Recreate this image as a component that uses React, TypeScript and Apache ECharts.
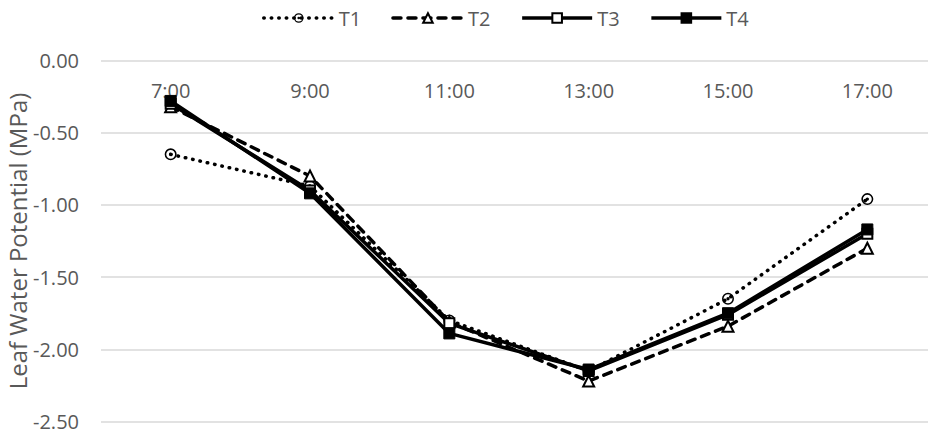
import React, { useEffect, useRef } from "react";
import * as echarts from "echarts";

const categories = ["7:00", "9:00", "11:00", "13:00", "15:00", "17:00"];
const t1 = [-0.65, -0.87, -1.8, -2.15, -1.65, -0.96];
const t2 = [-0.32, -0.8, -1.81, -2.22, -1.84, -1.3];
const t3 = [-0.3, -0.9, -1.82, -2.15, -1.76, -1.2];
const t4 = [-0.28, -0.92, -1.89, -2.14, -1.75, -1.17];
const yTicks = { min: -2.5, max: 0, interval: 0.5 };

const dotCircle =
  "path://M10 0A10 10 0 1 1 10 20A10 10 0 1 1 10 0Z M10 2.6A7.4 7.4 0 1 0 10 17.4A7.4 7.4 0 1 0 10 2.6Z M10 7.2A2.8 2.8 0 1 1 10 12.8A2.8 2.8 0 1 1 10 7.2Z";

export default function App() {
  const ref = useRef<HTMLDivElement>(null);
  useEffect(() => {
    if (!ref.current) return;
    const chart = echarts.init(ref.current, null, { renderer: "svg" });
    const font = "'Open Sans', sans-serif";
    const lineW = 3.5;
    const styles: any = {
      T1: { symbol: dotCircle, size: 12, type: [0.5, 7], cap: "round", bw: 0 },
      T2: { symbol: "emptyTriangle", size: 11, type: [8, 7], cap: "round", bw: 1.5 },
      T3: { symbol: "emptyRect", size: 10, type: "solid", cap: "butt", bw: 1.5 },
      T4: { symbol: "rect", size: 11, type: "solid", cap: "butt", bw: 1 },
    };
    const mk = (name: string, data: number[]) => ({
      name,
      type: "line",
      data,
      symbol: styles[name].symbol,
      symbolSize: styles[name].size,
      showSymbol: true,
      itemStyle: { color: "#000", borderColor: "#000", borderWidth: styles[name].bw },
      lineStyle: { color: "#000", width: lineW, type: styles[name].type, cap: styles[name].cap },
    });
    const names = ["T1", "T2", "T3", "T4"];
    chart.setOption({
      animation: false,
      textStyle: { fontFamily: font },
      legend: {
        left: 257,
        top: 3,
        itemWidth: 70,
        itemHeight: 12,
        itemGap: 30,
        lineStyle: { width: lineW },
        textStyle: { color: "#595959", fontSize: 20, fontFamily: font },
        data: names,
      },
      grid: { left: 101, right: -9, top: 60.5, bottom: 12.5, containLabel: false, outerBoundsMode: "none" },
      xAxis: {
        type: "category",
        data: categories,
        position: "top",
        boundaryGap: true,
        axisLine: { show: false },
        axisTick: { show: false },
        axisLabel: { inside: true, margin: 20, color: "#595959", fontSize: 20, fontFamily: font },
        splitLine: { show: false },
      },
      yAxis: {
        type: "value",
        min: yTicks.min,
        max: yTicks.max,
        interval: yTicks.interval,
        name: "Leaf Water Potential (MPa)",
        nameLocation: "middle",
        nameGap: 72,
        nameMoveOverlap: false,
        nameTextStyle: { color: "#595959", fontSize: 24, fontFamily: font },
        axisLine: { show: false },
        axisTick: { show: false },
        axisLabel: {
          color: "#595959",
          fontSize: 20,
          fontFamily: font,
          margin: 22,
          formatter: (v: number) => v.toFixed(2),
        },
        splitLine: { lineStyle: { color: "#d9d9d9", width: 1.5 } },
      },
      series: names.map((n, i) => mk(n, [t1, t2, t3, t4][i])),
    });
    return () => chart.dispose();
  }, []);
  return (
    <div
      ref={ref}
      style={{ position: "fixed", left: 0, top: 0, width: 928, height: 434, background: "#fff" }}
    />
  );
}
